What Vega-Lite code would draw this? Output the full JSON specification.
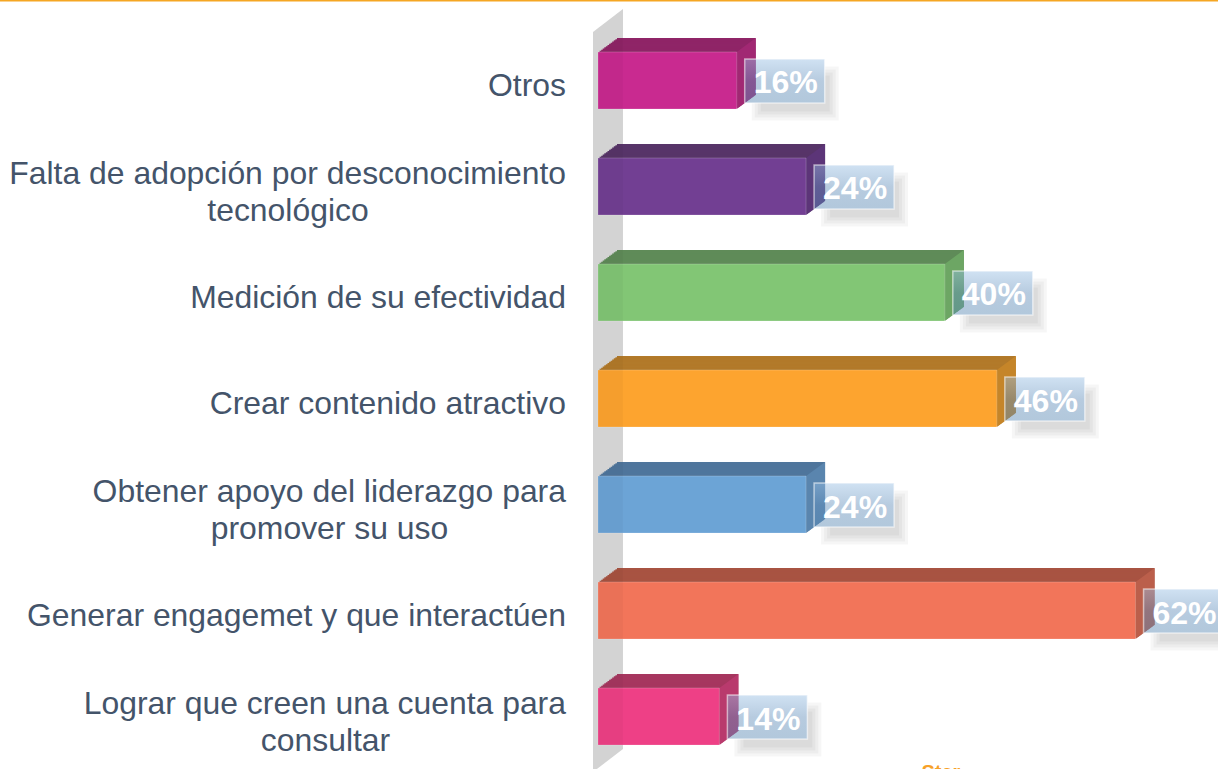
{
"$schema":"https://vega.github.io/schema/vega-lite/v6.json",
"width":1218,"height":769,"autosize":{"type":"none"},"padding":0,"background":"white",
"view":{"stroke":null},
"data":{"values":[
{"cat":"Otros","line1":"Otros","line2":null,"value":0.16},
{"cat":"Falta de adopción por desconocimiento tecnológico","line1":"Falta de adopción por desconocimiento","line2":"tecnológico","value":0.24},
{"cat":"Medición de su efectividad","line1":"Medición de su efectividad","line2":null,"value":0.40},
{"cat":"Crear contenido atractivo","line1":"Crear contenido atractivo","line2":null,"value":0.46},
{"cat":"Obtener apoyo del liderazgo para promover su uso","line1":"Obtener apoyo del liderazgo para","line2":"promover su uso","value":0.24},
{"cat":"Generar engagemet y que interactúen","line1":"Generar engagemet y que interactúen","line2":null,"value":0.62},
{"cat":"Lograr que creen una cuenta para consultar","line1":"Lograr que creen una cuenta para","line2":"consultar","value":0.14}
]},
"encoding":{
"x":{"field":"value","type":"quantitative","scale":{"domain":[-0.6897,0.7151],"range":[0,1218],"nice":false,"zero":false},"axis":null},
"y":{"field":"cat","type":"nominal","sort":null,"axis":null,"scale":{"domain":["Otros","Falta de adopción por desconocimiento tecnológico","Medición de su efectividad","Crear contenido atractivo","Obtener apoyo del liderazgo para promover su uso","Generar engagemet y que interactúen","Lograr que creen una cuenta para consultar"],"range":[27.5,769.5],"paddingInner":0.4623,"paddingOuter":0.2311}}
},
"resolve":{"scale":{"color":"independent"}},
"layer":[
{"transform":[{"filter":"datum.cat == 'Otros'"}],"mark":{"type":"rule","color":"#f5a623","strokeWidth":2},"encoding":{"x":{"value":0},"x2":{"value":1218},"y":{"value":0.5}}},
{"transform":[{"filter":"datum.cat == 'Otros'"}],"mark":{"type":"point","shape":"M-5,-366.5L25,-389.5L25,350.5L-5,373.5Z","size":4,"filled":true,"fill":"#dadada","opacity":1,"stroke":null},
 "encoding":{"x":{"datum":0},"y":{"datum":"Crear contenido atractivo"}}},
{"mark":{"type":"point","shape":"M-40,-27H47V27H-40Z","size":4,"filled":true,"fill":"#000","opacity":0.035,"stroke":null,"xOffset":55,"yOffset":13},"encoding":{}},
{"mark":{"type":"point","shape":"M-37,-24H44V24H-37Z","size":4,"filled":true,"fill":"#000","opacity":0.035,"stroke":null,"xOffset":55,"yOffset":13},"encoding":{}},
{"mark":{"type":"point","shape":"M-34,-21H41V21H-34Z","size":4,"filled":true,"fill":"#000","opacity":0.035,"stroke":null,"xOffset":55,"yOffset":13},"encoding":{}},
{"mark":{"type":"point","shape":"M-31,-18H38V18H-31Z","size":4,"filled":true,"fill":"#000","opacity":0.035,"stroke":null,"xOffset":55,"yOffset":13},"encoding":{}},
{"mark":{"type":"point","shape":"M-40,-22H40V22H-40Z","size":4,"filled":true,"fill":"#ffffff","opacity":1,"xOffset":48,"yOffset":0.5,"stroke":null},"encoding":{}},
{"encoding":{"color":{"field":"cat","type":"nominal","sort":null,"legend":null,"scale":{"range":["#8f2567","#573469","#5f8b58","#b27a2a","#4f769c","#a85342","#a6375f"]}}},
 "layer":[
 {"mark":{"type":"bar","xOffset":19,"x2Offset":19,"yOffset":-14,"y2Offset":-14}},
 {"mark":{"type":"bar","xOffset":17.4,"x2Offset":17.4,"yOffset":-12.83,"y2Offset":-12.83}},
 {"mark":{"type":"bar","xOffset":15.8,"x2Offset":15.8,"yOffset":-11.67,"y2Offset":-11.67}},
 {"mark":{"type":"bar","xOffset":14.2,"x2Offset":14.2,"yOffset":-10.5,"y2Offset":-10.5}},
 {"mark":{"type":"bar","xOffset":12.7,"x2Offset":12.7,"yOffset":-9.33,"y2Offset":-9.33}},
 {"mark":{"type":"bar","xOffset":11.1,"x2Offset":11.1,"yOffset":-8.17,"y2Offset":-8.17}},
 {"mark":{"type":"bar","xOffset":9.5,"x2Offset":9.5,"yOffset":-7,"y2Offset":-7}},
 {"mark":{"type":"bar","xOffset":7.9,"x2Offset":7.9,"yOffset":-5.83,"y2Offset":-5.83}},
 {"mark":{"type":"bar","xOffset":6.3,"x2Offset":6.3,"yOffset":-4.67,"y2Offset":-4.67}},
 {"mark":{"type":"bar","xOffset":4.7,"x2Offset":4.7,"yOffset":-3.5,"y2Offset":-3.5}},
 {"mark":{"type":"bar","xOffset":3.2,"x2Offset":3.2,"yOffset":-2.33,"y2Offset":-2.33}},
 {"mark":{"type":"bar","xOffset":1.6,"x2Offset":1.6,"yOffset":-1.17,"y2Offset":-1.17}}
 ]},
{"mark":{"type":"point","shape":"M0,-28.5L19,-42.5L19,14.5L0,28.5Z","size":4,"filled":true,"opacity":1,"stroke":null},
 "encoding":{"color":{"field":"cat","type":"nominal","sort":null,"legend":null,"scale":{"range":["#a12873","#5c3578","#6da664","#c58529","#5a85ae","#bb5f4b","#b93a6d"]}}}},
{"mark":{"type":"bar","stroke":"#ffffff","strokeOpacity":0.2,"strokeWidth":1},
 "encoding":{"x2":{"datum":0},"color":{"field":"cat","type":"nominal","sort":null,"legend":null,"scale":{"range":["#c92a90","#723f93","#82c675","#fda42f","#6ca4d6","#f2755a","#ee4086"]}}}},
{"transform":[{"filter":"datum.cat == 'Otros'"}],"mark":{"type":"point","shape":"M-5,-366.5L25,-389.5L25,350.5L-5,373.5Z","size":4,"filled":true,"fill":"#000","opacity":0.03,"stroke":null},
 "encoding":{"x":{"datum":0},"y":{"datum":"Crear contenido atractivo"}}},
{"mark":{"type":"point","shape":"M-40,-22H40V22H-40Z","size":4,"filled":true,"opacity":1,"xOffset":48,"yOffset":0.5,"stroke":"#ffffff","strokeOpacity":0.55,"strokeWidth":1.5,
  "fill":{"gradient":"linear","x1":0,"y1":0,"x2":0,"y2":1,"stops":[{"offset":0,"color":"rgba(152,191,228,0.46)"},{"offset":0.5,"color":"rgba(98,142,186,0.46)"},{"offset":1,"color":"rgba(87,135,178,0.46)"}]}},"encoding":{}},
{"mark":{"type":"text","font":"Liberation Sans","fontSize":32,"fontWeight":"bold","color":"#ffffff","align":"center","baseline":"middle","dx":49,"dy":3},
 "encoding":{"text":{"field":"value","type":"quantitative","format":".0%"}}},
{"transform":[{"filter":"datum.line2 == null"}],"mark":{"type":"text","font":"Liberation Sans","fontSize":31.9,"color":"#44546a","align":"right","baseline":"middle","dx":-32,"dy":5.5},
 "encoding":{"x":{"datum":0},"text":{"field":"line1"}}},
{"transform":[{"filter":"datum.line2 != null"}],"mark":{"type":"text","font":"Liberation Sans","fontSize":31.9,"color":"#44546a","align":"right","baseline":"middle","dx":-32,"dy":-12.5},
 "encoding":{"x":{"datum":0},"text":{"field":"line1"}}},
{"transform":[{"filter":"datum.line2 == 'tecnológico'"}],"mark":{"type":"text","font":"Liberation Sans","fontSize":31.9,"color":"#44546a","align":"center","baseline":"middle","dx":-310,"dy":24.5},
 "encoding":{"x":{"datum":0},"text":{"field":"line2"}}},
{"transform":[{"filter":"datum.line2 == 'promover su uso'"}],"mark":{"type":"text","font":"Liberation Sans","fontSize":31.9,"color":"#44546a","align":"center","baseline":"middle","dx":-268.5,"dy":24},
 "encoding":{"x":{"datum":0},"text":{"field":"line2"}}},
{"transform":[{"filter":"datum.line2 == 'consultar'"}],"mark":{"type":"text","font":"Liberation Sans","fontSize":31.9,"color":"#44546a","align":"center","baseline":"middle","dx":-272.5,"dy":24},
 "encoding":{"x":{"datum":0},"text":{"field":"line2"}}},
{"transform":[{"filter":"datum.cat == 'Otros'"}],"mark":{"type":"text","font":"Liberation Sans","fontSize":20,"fontWeight":"bold","color":"#f7a128","align":"left","baseline":"top","text":"Ster"},
 "encoding":{"x":{"datum":0.373},"y":{"value":763}}}
]
}
